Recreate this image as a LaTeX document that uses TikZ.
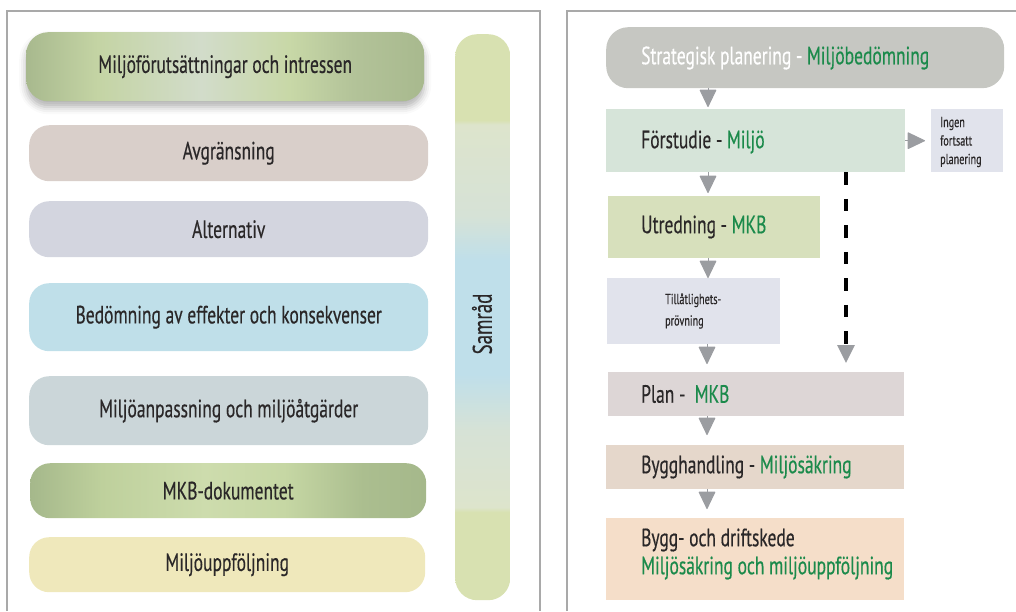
\documentclass[tikz,border=0pt]{standalone}
\usepackage{fontspec}
\setmainfont[FakeStretch=0.70,FakeBold=0.4]{PT Sans}
\usetikzlibrary{arrows.meta,shadows.blur}

% palette
\definecolor{ink}{HTML}{2A2728}
\definecolor{mkgreen}{HTML}{1B8A4B}
\definecolor{frame}{HTML}{A9A9A9}
\definecolor{arrowgrey}{HTML}{9B9DA1}
% left column fills
\definecolor{avgr}{HTML}{D9CFCA}
\definecolor{altern}{HTML}{D3D5DF}
\definecolor{bedom}{HTML}{BFDFE9}
\definecolor{anpass}{HTML}{CBD6D9}
\definecolor{uppfolj}{HTML}{EFE8BB}
% sage band, top row
\definecolor{sgA}{HTML}{A8B98E}
\definecolor{sgB}{HTML}{C4D4A4}
\definecolor{sgC}{HTML}{D2DCCA}
\definecolor{sgD}{HTML}{C8D8A7}
\definecolor{sgE}{HTML}{B3C399}
% sage band, document row
\definecolor{dkA}{HTML}{A5B88B}
\definecolor{dkB}{HTML}{BED09C}
\definecolor{dkC}{HTML}{CDDCAD}
\definecolor{dkD}{HTML}{C6D7A4}
\definecolor{dkE}{HTML}{ABBE8F}
% consultation bar
\definecolor{srGreen}{HTML}{D8E1B1}
\definecolor{srPale}{HTML}{DDE4CC}
\definecolor{srMid}{HTML}{D6E2D6}
\definecolor{srBlue}{HTML}{BFDFEA}
% right column fills
\definecolor{strat}{HTML}{C6C7C2}
\definecolor{forst}{HTML}{D6E4D9}
\definecolor{ingen}{HTML}{E1E3EC}
\definecolor{utred}{HTML}{D7E0BC}
\definecolor{plan}{HTML}{DDD6D6}
\definecolor{bhand}{HTML}{E5D7CB}
\definecolor{bygg}{HTML}{F5DEC9}

\pgfdeclarehorizontalshading{topband}{100bp}{color(0bp)=(sgA); color(25bp)=(sgA); color(34bp)=(sgB); color(47bp)=(sgC); color(58bp)=(sgD); color(66bp)=(sgE); color(75bp)=(sgA); color(100bp)=(sgA)}
\pgfdeclarehorizontalshading{docband}{100bp}{color(0bp)=(dkA); color(25bp)=(dkA); color(34bp)=(dkB); color(47bp)=(dkC); color(57bp)=(dkD); color(67bp)=(dkE); color(75bp)=(dkA); color(100bp)=(dkA)}
\pgfdeclareverticalshading{samradband}{100bp}{color(0bp)=(srGreen); color(32.8bp)=(srGreen); color(33.2bp)=(srPale); color(40bp)=(srMid); color(45bp)=(srBlue); color(55bp)=(srBlue); color(59bp)=(srMid); color(67bp)=(srPale); color(67.4bp)=(srGreen); color(100bp)=(srGreen)}

\newcommand\lblfont{\fontsize{25}{29}\selectfont}
\newcommand\twofont{\fontsize{25}{28}\selectfont}
\newcommand\midfont{\fontsize{14.5}{21.5}\selectfont}
\newcommand\tinyfont{\fontsize{14.5}{18.5}\selectfont}

\begin{document}
\begin{tikzpicture}[x=1pt,y=-1pt,
  lbox/.style={anchor=north west, inner sep=0pt, rounded corners=20pt, font=\lblfont, text=ink},
  rbox/.style={anchor=north west, inner sep=0pt},
  rlabel/.style={anchor=west, inner sep=0pt, font=\lblfont, text=ink, align=left},
  flow/.style={draw=arrowgrey, line width=1pt, -{Triangle[width=17pt,length=18pt,round]}},
  skip/.style={draw=black, line width=3.3pt, dash pattern=on 12.5pt off 14pt,
    -{Triangle[width=17pt,length=18pt,color=arrowgrey]}},
  panel/.style={draw=frame, line width=1.7pt}]
\useasboundingbox (0,0) rectangle (1016,611);

% panel frames
\draw[panel] (7,611) -- (7,11) -- (540,11) -- (540,611);
\draw[panel] (567,611) -- (567,11) -- (1020,11);

% ---- left column: assessment steps ----
\node[lbox, minimum width=398pt, minimum height=69pt, rounded corners=22pt,
  shading=topband,
  blur shadow={shadow xshift=0pt, shadow yshift=-6pt, shadow blur radius=7pt, shadow opacity=30}]
  (forut) at (26,32) {Miljöförutsättningar och intressen};
\node[lbox, fill=avgr, minimum width=399pt, minimum height=56pt] (avgr) at (29,125) {Avgränsning};
\node[lbox, fill=altern, minimum width=399pt, minimum height=56pt] (alt) at (29,201) {Alternativ};
\node[lbox, fill=bedom, minimum width=399pt, minimum height=68pt] (bed) at (29,283) {Bedömning av effekter och konsekvenser};
\node[lbox, fill=anpass, minimum width=399pt, minimum height=69pt] (anp) at (29,376) {Miljöanpassning och miljöåtgärder};
\node[lbox, shading=docband, minimum width=396pt, minimum height=55pt] (mkbdoc) at (30,463) {MKB-dokumentet};
\node[lbox, fill=uppfolj, minimum width=396pt, minimum height=55pt] (upp) at (29,537) {Miljöuppföljning};

% consultation bar
\node[rbox, shading=samradband, rounded corners=22pt, minimum width=55pt, minimum height=566pt] (samrad) at (455,34) {};
\node[font=\fontsize{27}{30}\selectfont, text=ink, rotate=90, inner sep=0pt] (samradtxt) at (482,324) {Samråd};

% ---- right column: planning process ----
\node[rbox, fill=strat, rounded corners=22pt, minimum width=398pt, minimum height=61pt] (strat) at (606,27) {};
\node[rlabel] (strat-t) at (641,58) {\textcolor{white}{Strategisk planering -} \textcolor{mkgreen}{Miljöbedömning}};

\node[rbox, fill=forst, minimum width=299pt, minimum height=63pt] (forst) at (606,109) {};
\node[rlabel] (forst-t) at (641,142) {Förstudie - \textcolor{mkgreen}{Miljö}};

\node[rbox, fill=ingen, minimum width=72pt, minimum height=63pt] (ingen) at (931,109) {};
\node[rlabel, font=\tinyfont] (ingen-t) at (940,142) {Ingen\\fortsatt\\planering};

\node[rbox, fill=utred, minimum width=212pt, minimum height=62pt] (utred) at (608,196) {};
\node[rlabel] (utred-t) at (641,227) {Utredning - \textcolor{mkgreen}{MKB}};

\node[rbox, fill=ingen, minimum width=173pt, minimum height=66pt] (tillat) at (607,278) {};
\node[rlabel, font=\midfont] (tillat-t) at (665,311) {Tillåtlighets-\\prövning};

\node[rbox, fill=plan, minimum width=296pt, minimum height=44pt] (plan) at (608,372) {};
\node[rlabel] (plan-t) at (641,394) {Plan -\ \ \textcolor{mkgreen}{MKB}};

\node[rbox, fill=bhand, minimum width=298pt, minimum height=44pt] (bhand) at (606,445) {};
\node[rlabel] (bhand-t) at (641,467) {Bygghandling - \textcolor{mkgreen}{Miljösäkring}};

\node[rbox, fill=bygg, minimum width=298pt, minimum height=82pt] (bygg) at (606,518) {};
\node[rlabel, font=\twofont] (bygg-t) at (641,554) {Bygg- och driftskede\\\textcolor{mkgreen}{Miljösäkring och miljöuppföljning}};

% flow arrows
\coordinate (xa) at (708,0);
\coordinate (xb) at (707,0);
\coordinate (xd) at (846,0);
\draw[flow, shorten >=2pt] (strat.south -| xa) -- (forst.north -| xa);
\draw[flow, shorten >=3pt] (forst.south -| xa) -- (utred.north -| xa);
\draw[flow, shorten >=0pt] (utred.south -| xa) -- (tillat.north -| xa);
\draw[flow, shorten >=8pt] (tillat.south -| xb) -- (plan.north -| xb);
\draw[flow, shorten >=10pt] (plan.south -| xb) -- (bhand.north -| xb);
\draw[flow, shorten >=9pt] (bhand.south -| xb) -- (bygg.north -| xb);
\draw[flow, shorten >=6pt] (forst.east) -- (ingen.west);
\draw[skip, shorten >=9pt] (forst.south -| xd) -- (plan.north -| xd);
\end{tikzpicture}
\end{document}
